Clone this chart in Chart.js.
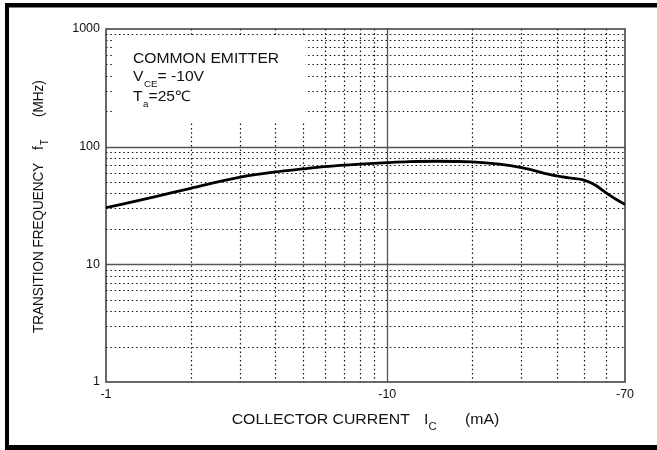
<!DOCTYPE html>
<html>
<head>
<meta charset="utf-8">
<script src="https://cdn.jsdelivr.net/npm/chart.js@4/dist/chart.umd.min.js"></script>
<style>
  html, body { margin: 0; padding: 0; background: #fff; }
  #wrap { width: 657px; height: 450px; }
</style>
</head>
<body>
<div id="wrap"><canvas id="c" width="657" height="450"></canvas></div>
<script>
// ---- data ----
const collectorCurrent = [1, 1.5, 2, 3, 4, 5, 6, 8, 10, 12, 15, 20, 25, 30, 40, 45, 50, 55, 60, 65, 70]; // |Ic| mA
const transitionFreq   = [30.3, 37.6, 44.3, 55, 61, 64.7, 67.6, 71, 73.1, 74.5, 75.2, 74.3, 71, 66.3, 56.4, 54, 52, 47, 40.5, 35.7, 32.4]; // MHz
const xTickValues = [1, 10, 70];
const xTickLabels = ['-1', '-10', '-70'];
const yTickValues = [1, 10, 100, 1000];
const yTickLabels = ['1', '10', '100', '1000'];
const xMinorGrid = [2, 3, 4, 5, 6, 7, 8, 9, 20, 30, 40, 50, 60];
const xMajorGrid = [10];
const yMinorGrid = [2, 3, 4, 5, 6, 7, 8, 9, 20, 30, 40, 50, 60, 70, 80, 90, 200, 300, 400, 500, 600, 700, 800, 900];
const yMajorGrid = [10, 100];
const noteLines = [
  { main: 'COMMON EMITTER', sub: '', rest: '' },
  { main: 'V', sub: 'CE', rest: '= -10V' },
  { main: 'T', sub: 'a', rest: '=25\u2103' }
];
const xTitle = { main: 'COLLECTOR CURRENT', sym: 'I', sub: 'C', unit: '(mA)' };
const yTitle = { main: 'TRANSITION FREQUENCY', sym: 'f', sub: 'T', unit: '(MHz)' };

const FONT = '"Liberation Sans", Arial, sans-serif';

const gridPlugin = {
  id: 'gridPlugin',
  beforeDatasetsDraw(chart) {
    const { ctx, chartArea: a, scales: { x, y } } = chart;
    ctx.save();
    // minor dotted grid
    ctx.strokeStyle = '#111';
    ctx.lineWidth = 1.2;
    ctx.setLineDash([1.5, 2.8]);
    xMinorGrid.forEach(v => {
      const px = Math.round(x.getPixelForValue(v)) + 0.5;
      ctx.beginPath(); ctx.moveTo(px, a.top); ctx.lineTo(px, a.bottom); ctx.stroke();
    });
    yMinorGrid.forEach(v => {
      const py = Math.round(y.getPixelForValue(v)) + 0.5;
      ctx.beginPath(); ctx.moveTo(a.left, py); ctx.lineTo(a.right, py); ctx.stroke();
    });
    ctx.setLineDash([]);
    // major solid grid
    ctx.strokeStyle = '#555';
    ctx.lineWidth = 1.3;
    xMajorGrid.forEach(v => {
      const px = Math.round(x.getPixelForValue(v)) + 0.5;
      ctx.beginPath(); ctx.moveTo(px, a.top); ctx.lineTo(px, a.bottom); ctx.stroke();
    });
    yMajorGrid.forEach(v => {
      const py = Math.round(y.getPixelForValue(v)) + 0.5;
      ctx.beginPath(); ctx.moveTo(a.left, py); ctx.lineTo(a.right, py); ctx.stroke();
    });
    // white note box
    ctx.fillStyle = '#fff';
    ctx.fillRect(112, 36, 193, 85);
    // note text
    ctx.fillStyle = '#111';
    const baselines = [63.3, 80.7, 100.7];
    noteLines.forEach((ln, i) => {
      ctx.save();
      ctx.translate(133, baselines[i]);
      ctx.scale(1.08, 1);
      ctx.font = '14.5px ' + FONT;
      ctx.textBaseline = 'alphabetic';
      ctx.fillText(ln.main, 0, 0);
      let w = ctx.measureText(ln.main).width;
      if (ln.sub) {
        ctx.font = '9px ' + FONT;
        ctx.fillText(ln.sub, w + 0.5, 6);
        w += ctx.measureText(ln.sub).width + 0.5;
        ctx.font = '14.5px ' + FONT;
        ctx.fillText(ln.rest, w, 0);
      }
      ctx.restore();
    });
    // plot frame
    ctx.strokeStyle = '#444';
    ctx.lineWidth = 1.6;
    ctx.strokeRect(a.left, a.top, a.right - a.left, a.bottom - a.top);
    ctx.restore();
  },
  afterDraw(chart) {
    const { ctx } = chart;
    ctx.save();
    ctx.fillStyle = '#111';
    // x title
    ctx.save();
    ctx.translate(231.7, 424);
    ctx.scale(1.13, 1);
    ctx.font = '14px ' + FONT;
    ctx.fillText(xTitle.main, 0, 0);
    ctx.restore();
    ctx.save();
    ctx.translate(424, 424);
    ctx.scale(1.13, 1);
    ctx.font = '14px ' + FONT;
    ctx.fillText(xTitle.sym, 0, 0);
    ctx.font = '10px ' + FONT;
    ctx.fillText(xTitle.sub, 4, 6);
    ctx.restore();
    ctx.save();
    ctx.translate(465, 424);
    ctx.scale(1.13, 1);
    ctx.font = '14px ' + FONT;
    ctx.fillText(xTitle.unit, 0, 0);
    ctx.restore();
    // y title (rotated)
    ctx.save();
    ctx.translate(43, 333);
    ctx.rotate(-Math.PI / 2);
    ctx.scale(1, 1.13);
    ctx.font = '13.5px ' + FONT;
    ctx.fillText(yTitle.main, 0, 0);
    ctx.fillText(yTitle.sym, 183, 0);
    ctx.font = '9px ' + FONT;
    ctx.fillText(yTitle.sub, 188, 4);
    ctx.font = '13.5px ' + FONT;
    ctx.fillText(yTitle.unit, 216, 0);
    ctx.restore();
    // outer frame
    ctx.fillStyle = '#000';
    ctx.fillRect(5, 3, 652, 4.5);
    ctx.fillRect(5, 3, 4, 447);
    ctx.fillRect(5, 445, 652, 5);
    ctx.restore();
  }
};

new Chart(document.getElementById('c'), {
  type: 'line',
  data: {
    datasets: [{
      data: collectorCurrent.map((v, i) => ({ x: v, y: transitionFreq[i] })),
      borderColor: '#000',
      borderWidth: 2.8,
      pointRadius: 0,
      fill: false,
      cubicInterpolationMode: 'monotone'
    }]
  },
  options: {
    responsive: false,
    animation: false,
    layout: { padding: { left: 0, top: 29, right: 32, bottom: 0 } },
    plugins: { legend: { display: false }, tooltip: { enabled: false } },
    scales: {
      x: {
        type: 'logarithmic',
        min: 1, max: 70,
        afterBuildTicks: s => { s.ticks = xTickValues.map(v => ({ value: v })); },
        afterFit: s => { s.height = 68; },
        grid: { display: false, drawTicks: false },
        border: { display: false },
        ticks: {
          autoSkip: false, maxRotation: 0, padding: 5,
          color: '#111',
          font: { family: FONT, size: 12.5 },
          callback: (v) => { const i = xTickValues.indexOf(v); return i >= 0 ? xTickLabels[i] : ''; }
        }
      },
      y: {
        type: 'logarithmic',
        min: 1, max: 1000,
        afterBuildTicks: s => { s.ticks = yTickValues.map(v => ({ value: v })); },
        afterFit: s => { s.width = 106; },
        grid: { display: false, drawTicks: false },
        border: { display: false },
        ticks: {
          autoSkip: false, padding: 6,
          color: '#111',
          font: { family: FONT, size: 12.5 },
          callback: (v) => { const i = yTickValues.indexOf(v); return i >= 0 ? yTickLabels[i] : ''; }
        }
      }
    }
  },
  plugins: [gridPlugin]
});
</script>
</body>
</html>
